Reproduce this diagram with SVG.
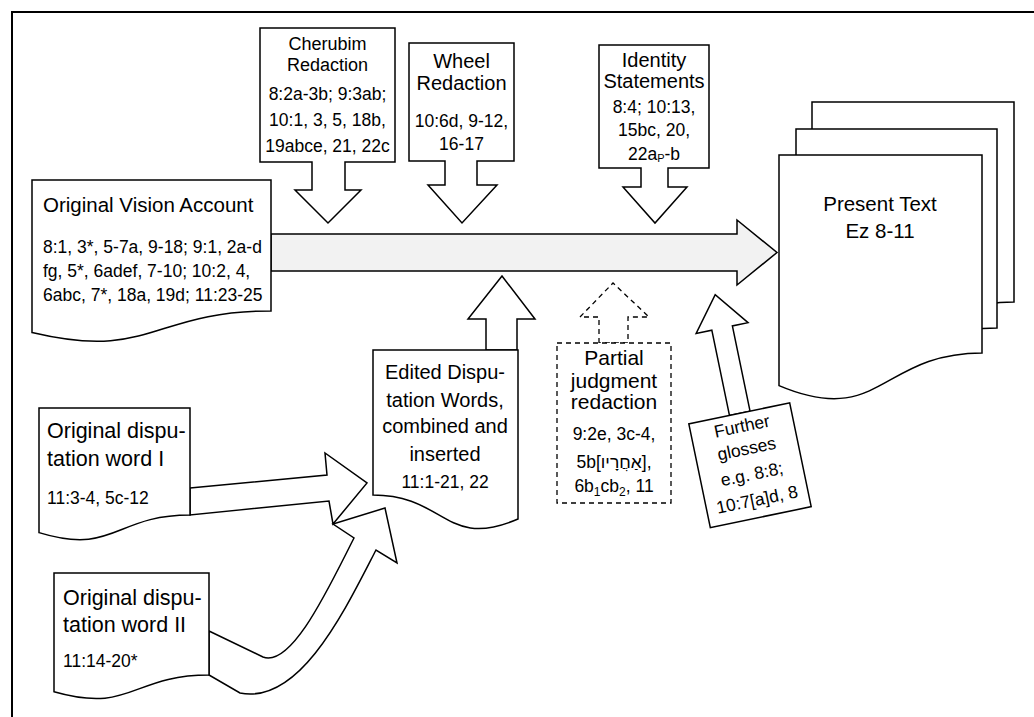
<svg xmlns="http://www.w3.org/2000/svg" width="1034" height="717" viewBox="0 0 1034 717">
<style>
.s{fill:#fff;stroke:#000;stroke-width:1.5;stroke-linejoin:miter}
.g{fill:#f2f2f2;stroke:#000;stroke-width:1.5}
.d{fill:#fff;stroke:#000;stroke-width:1.3;stroke-dasharray:5,4}
text{font-family:"Liberation Sans","DejaVu Sans",Arial,sans-serif;fill:#000}
.ti{font-size:20px}
.rf{font-size:17.5px}
.c{text-anchor:middle}
</style>
<rect width="1034" height="717" fill="#fff"/>
<rect id="frame" x="12" y="12" width="1040" height="730" fill="none" stroke="#000" stroke-width="2"/>
<g id="connectors">
<polygon class="g" points="271,234 737,234 737,220 777,252.5 737,285 737,271 271,271"/>
<polygon class="s" points="190,488 327,475 325,453 367,483 333,524 329,501 190,515"/>
<path class="s" d="M209,631 L263,657 C292,668 330,585 354,538 L333,524 L385,508 L397,563 L376,550 C345,610 300,705 240,693 L209,675 Z"/>
<polygon class="s" points="486,350 486,319 468,319 502,276 535,319 517,319 517,350"/>
<polygon class="d" points="599,343 599,317 580,317 613,283 649,317 628,317 628,343"/>
<g transform="translate(750,465.25) rotate(-11.7)">
<polygon class="s" points="-10,-53 -10,-140 -26,-140 0.5,-174 27,-140 11,-140 11,-53"/>
</g>
</g>
<g id="cherubim">
<path class="s" d="M260,28 H395 V162 H345 V190 H361 L328,223 L295,190 H312 V162 H260 Z"/>
<text class="ti c" x="327.5" y="50" style="font-size:18px">Cherubim</text>
<text class="ti c" x="327.5" y="71" style="font-size:18px">Redaction</text>
<text class="rf c" x="327.5" y="100">8:2a-3b; 9:3ab;</text>
<text class="rf c" x="327.5" y="126">10:1, 3, 5, 18b,</text>
<text class="rf c" x="327.5" y="152">19abce, 21, 22c</text>
</g>
<g id="wheel">
<path class="s" d="M409,43 H514 V161 H477 V185 H497 L462,223 L428,185 H445 V161 H409 Z"/>
<text class="ti c" x="461.5" y="68">Wheel</text>
<text class="ti c" x="461.5" y="90">Redaction</text>
<text class="rf c" x="461.5" y="127">10:6d, 9-12,</text>
<text class="rf c" x="461.5" y="150">16-17</text>
</g>
<g id="identity">
<path class="s" d="M599,45 H709 V168 H668 V187 H687 L655,223 L623,187 H641 V168 H599 Z"/>
<text class="ti c" x="654" y="67">Identity</text>
<text class="ti c" x="654" y="88">Statements</text>
<text class="rf c" x="654" y="113">8:4; 10:13,</text>
<text class="rf c" x="654" y="136">15bc, 20,</text>
<text class="rf c" x="654" y="160">22a<tspan font-size="11" dy="2">P</tspan><tspan dy="-2">-b</tspan></text>
</g>
<g id="original-vision">
<path class="s" d="M32,180 H271 V311 C151.5,311 151.5,361 32,332.6 Z"/>
<text class="ti" x="43" y="212" style="font-size:20.5px">Original Vision Account</text>
<text class="rf" x="43" y="253">8:1, 3*, 5-7a, 9-18; 9:1, 2a-d</text>
<text class="rf" x="43" y="277">fg, 5*, 6adef, 7-10; 10:2, 4,</text>
<text class="rf" x="43" y="301">6abc, 7*, 18a, 19d; 11:23-25</text>
</g>
<g id="present-text">
<path class="s" d="M812,102 H1014 V302 C913,302 913,378 812,335 Z"/>
<path class="s" d="M796,129 H997 V328 C896.5,328 896.5,403.7 796,360.6 Z"/>
<path class="s" d="M779,155 H982 V353 C880.5,353 880.5,428.4 779,385.6 Z"/>
<text class="ti c" x="880" y="211" style="font-size:20.5px">Present Text</text>
<text class="ti c" x="880" y="238" style="font-size:20.5px">Ez 8-11</text>
</g>
<g id="edited">
<path class="s" d="M518,350 H373 V495 C445.5,495 445.5,550.2 518,519 Z"/>
<text class="ti c" x="445" y="379">Edited Dispu-</text>
<text class="ti c" x="445" y="407">tation Words,</text>
<text class="ti c" x="445" y="433">combined and</text>
<text class="ti c" x="445" y="461">inserted</text>
<text class="rf c" x="445" y="488">11:1-21, 22</text>
</g>
<g id="partial">
<rect class="d" x="557" y="343" width="114" height="160"/>
<text class="ti c" x="614" y="365" style="font-size:21px">Partial</text>
<text class="ti c" x="614" y="388" style="font-size:21px">judgment</text>
<text class="ti c" x="614" y="409" style="font-size:21px">redaction</text>
<text class="rf c" x="614" y="440">9:2e, 3c-4,</text>
<text class="rf c" x="614" y="468">5b[אַחֲרָיו],</text>
<text class="rf c" x="614" y="492">6b<tspan font-size="12" dy="4">1</tspan><tspan dy="-4">cb</tspan><tspan font-size="12" dy="4">2</tspan><tspan dy="-4">, 11</tspan></text>
</g>
<g id="further-glosses" transform="translate(750,465.25) rotate(-11.7)">
<rect class="s" x="-51.5" y="-53" width="103" height="106"/>
<text class="rf c" x="0" y="-34">Further</text>
<text class="rf c" x="0" y="-11">glosses</text>
<text class="rf c" x="0" y="15">e.g. 8:8;</text>
<text class="rf c" x="0" y="41">10:7[a]d, 8</text>
</g>
<g id="dispute-1">
<path class="s" d="M39,408 H190 V515 C114.5,515 114.5,555.7 39,532.6 Z"/>
<text class="ti" x="47" y="438" style="font-size:21.5px">Original dispu-</text>
<text class="ti" x="47" y="466" style="font-size:21.5px">tation word I</text>
<text class="rf" x="47" y="504">11:3-4, 5c-12</text>
</g>
<g id="dispute-2">
<path class="s" d="M54,573 H209 V675 C131.5,675 131.5,713.9 54,691.8 Z"/>
<text class="ti" x="63" y="605" style="font-size:21.5px">Original dispu-</text>
<text class="ti" x="63" y="632" style="font-size:21.5px">tation word II</text>
<text class="rf" x="63" y="667">11:14-20*</text>
</g>
</svg>
